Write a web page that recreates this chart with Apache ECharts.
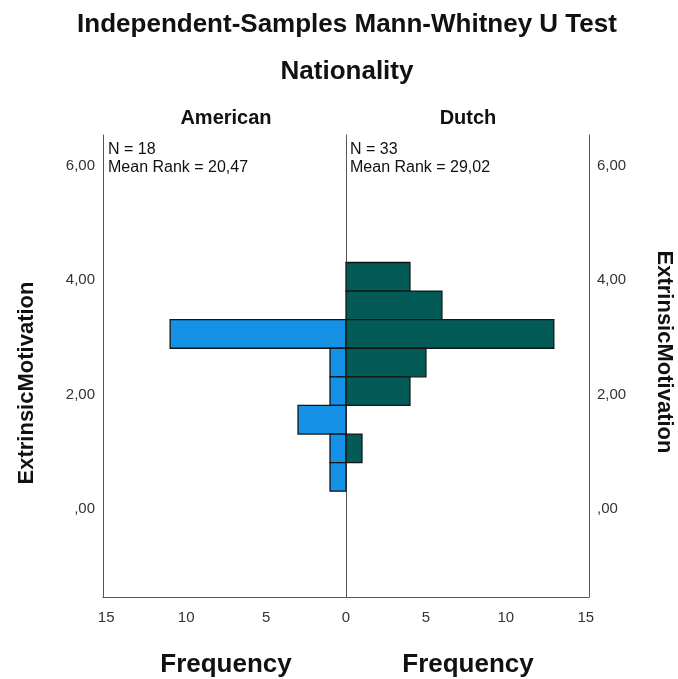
<!DOCTYPE html>
<html>
<head>
<meta charset="utf-8">
<script src="https://cdn.jsdelivr.net/npm/echarts@6/dist/echarts.min.js"></script>
<style>html,body{margin:0;padding:0;background:#fff}#c{width:678px;height:679px}</style>
</head>
<body>
<div id="c"></div>
<script>
// ---- data ----
const groups = ['American', 'Dutch'];
const binCenters = [4.06, 3.56, 3.06, 2.56, 2.06, 1.56, 1.06, 0.56];
const binWidth = 0.5;
const americanCounts = [0, 0, 11, 1, 1, 3, 1, 1];
const dutchCounts = [4, 6, 13, 5, 4, 0, 1, 0];
const groupN = [18, 33];
const meanRanks = ['20,47', '29,02'];
const yTicks = [0, 2, 4, 6];
const xTicksLeft = [0, 5, 10, 15];
const xTicksRight = [5, 10, 15];
const titleText = 'Independent-Samples Mann-Whitney U Test';
const subTitleText = 'Nationality';
const yName = 'ExtrinsicMotivation';
const xName = 'Frequency';

const FONT = "'Liberation Sans', Arial, sans-serif";
const chart = echarts.init(document.getElementById('c'), null, {renderer: 'canvas'});

function toData(counts) {
  const out = [];
  counts.forEach((n, i) => { if (n > 0) out.push([n, binCenters[i]]); });
  return out;
}
function makeRender(fill) {
  return function (params, api) {
    const n = api.value(0), c = api.value(1);
    const p0 = api.coord([0, c + binWidth / 2]);
    const p1 = api.coord([n, c - binWidth / 2]);
    return {
      type: 'rect',
      shape: {x: Math.min(p0[0], p1[0]), y: p0[1], width: Math.abs(p1[0] - p0[0]), height: p1[1] - p0[1]},
      style: {fill: fill, stroke: '#151515', lineWidth: 1.3}
    };
  };
}
const yFmt = v => v.toFixed(2).replace('.', ',').replace(/^0/, '');
const lineStyle = {color: '#555', width: 1};
const yMin = -1.54, yMax = 6.54, xMax = 15.2;

const yBase = {
  type: 'value', min: yMin, max: yMax,
  splitLine: {show: false}, axisTick: {show: false},
  axisLine: {show: true, onZero: false, lineStyle: lineStyle}
};
const yLabel = {show: true, customValues: yTicks, formatter: yFmt, color: '#333', fontSize: 15, fontFamily: FONT, margin: 8};

chart.setOption({
  animation: false,
  backgroundColor: '#fff',
  grid: [
    {left: 103, top: 135, width: 243, height: 462},
    {left: 346, top: 135, width: 243, height: 462}
  ],
  xAxis: [
    {gridIndex: 0, type: 'value', inverse: true, min: 0, max: xMax,
      splitLine: {show: false}, axisTick: {show: false},
      axisLine: {show: true, onZero: false, lineStyle: lineStyle},
      axisLabel: {customValues: xTicksLeft, color: '#333', fontSize: 15, fontFamily: FONT, margin: 13}},
    {gridIndex: 1, type: 'value', min: 0, max: xMax,
      splitLine: {show: false}, axisTick: {show: false},
      axisLine: {show: true, onZero: false, lineStyle: lineStyle},
      axisLabel: {customValues: xTicksRight, color: '#333', fontSize: 15, fontFamily: FONT, margin: 13}}
  ],
  yAxis: [
    Object.assign({}, yBase, {gridIndex: 0, position: 'left', axisLabel: yLabel}),
    Object.assign({}, yBase, {gridIndex: 1, position: 'left', axisLabel: {show: false}}),
    Object.assign({}, yBase, {gridIndex: 1, position: 'right', axisLabel: yLabel})
  ],
  series: [
    {type: 'custom', name: groups[0], xAxisIndex: 0, yAxisIndex: 0, data: toData(americanCounts),
      encode: {x: 0, y: 1}, renderItem: makeRender('#1591E6'), clip: false},
    {type: 'custom', name: groups[1], xAxisIndex: 1, yAxisIndex: 1, data: toData(dutchCounts),
      encode: {x: 0, y: 1}, renderItem: makeRender('#035B58'), clip: false}
  ],
  graphic: [
    {type: 'text', x: 347, y: 25, style: {text: titleText, font: 'bold 26px ' + FONT, fill: '#111', align: 'center', verticalAlign: 'middle'}},
    {type: 'text', x: 347, y: 72, style: {text: subTitleText, font: 'bold 26px ' + FONT, fill: '#111', align: 'center', verticalAlign: 'middle'}},
    {type: 'text', x: 226, y: 118, style: {text: groups[0], font: 'bold 20px ' + FONT, fill: '#111', align: 'center', verticalAlign: 'middle'}},
    {type: 'text', x: 468, y: 118, style: {text: groups[1], font: 'bold 20px ' + FONT, fill: '#111', align: 'center', verticalAlign: 'middle'}},
    {type: 'text', x: 108, y: 141, style: {text: 'N = ' + groupN[0] + '\nMean Rank = ' + meanRanks[0], font: '16px ' + FONT, lineHeight: 18, fill: '#111'}},
    {type: 'text', x: 350, y: 141, style: {text: 'N = ' + groupN[1] + '\nMean Rank = ' + meanRanks[1], font: '16px ' + FONT, lineHeight: 18, fill: '#111'}},
    {type: 'text', x: 226, y: 665, style: {text: xName, font: 'bold 26px ' + FONT, fill: '#111', align: 'center', verticalAlign: 'middle'}},
    {type: 'text', x: 468, y: 665, style: {text: xName, font: 'bold 26px ' + FONT, fill: '#111', align: 'center', verticalAlign: 'middle'}},
    {type: 'text', x: 27, y: 383, rotation: Math.PI / 2, style: {text: yName, font: 'bold 22px ' + FONT, fill: '#111', align: 'center', verticalAlign: 'middle'}},
    {type: 'text', x: 664, y: 352, rotation: -Math.PI / 2, style: {text: yName, font: 'bold 22px ' + FONT, fill: '#111', align: 'center', verticalAlign: 'middle'}}
  ]
});
</script>
</body>
</html>
